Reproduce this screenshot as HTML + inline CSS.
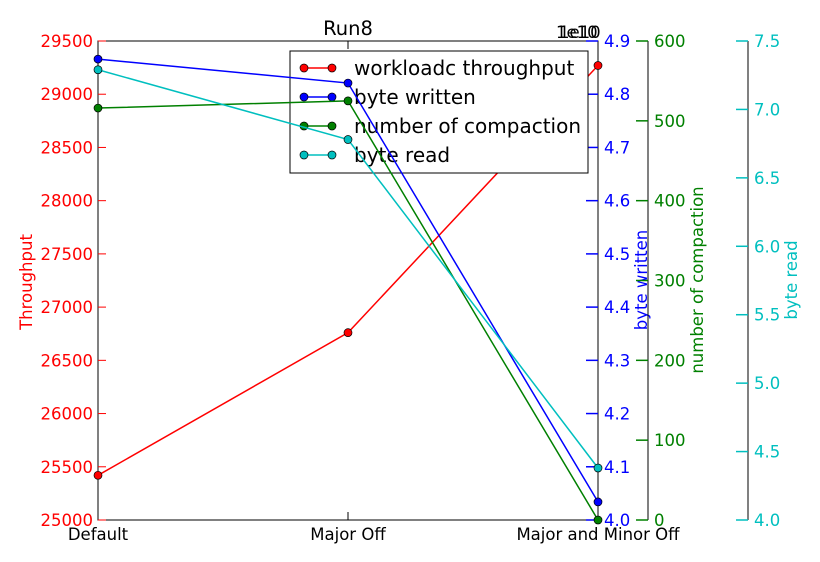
<!DOCTYPE html>
<html><head><meta charset="utf-8"><style>body{margin:0;background:#fff}svg{display:block;font-family:"DejaVu Sans","Liberation Sans",sans-serif}</style></head>
<body>
<svg id="c" width="820" height="562"></svg>
<script>
const categories=["Default","Major Off","Major and Minor Off"];
const throughput=[25420,26760,29270];
const byteWritten=[4.866,4.821,4.034];
const compaction=[516,525,0];
const byteRead=[7.29,6.78,4.38];
const thrTicks=[25000,25500,26000,26500,27000,27500,28000,28500,29000,29500];
const bwTicks=[4.0,4.1,4.2,4.3,4.4,4.5,4.6,4.7,4.8,4.9];
const cTicks=[0,100,200,300,400,500,600];
const brTicks=[4.0,4.5,5.0,5.5,6.0,6.5,7.0,7.5];
const svg=document.getElementById('c');const NS='http://www.w3.org/2000/svg';
const L=98,R=598,T=41,B=520;const FS=16.5;
function el(t,a,txt){const e=document.createElementNS(NS,t);for(const k in a)e.setAttribute(k,a[k]);if(txt!==undefined)e.textContent=txt;svg.appendChild(e);return e;}
const x=i=>L+i*(R-L)/(categories.length-1);
const sc=(lo,hi)=>v=>B-(v-lo)/(hi-lo)*(B-T);
const yT=sc(25000,29500),yW=sc(4.0,4.9),yC=sc(0,600),yR=sc(4.0,7.5);
let e=el('rect',{x:L,y:T,width:R-L,height:B-T,fill:'none',stroke:'#000'});

e=el('text',{x:348,y:35,'text-anchor':'middle','font-size':19.5},'Run8');

categories.forEach((c,i)=>{el('line',{x1:x(i),x2:x(i),y1:B,y2:B-8,stroke:'#000'});el('line',{x1:x(i),x2:x(i),y1:T,y2:T+8,stroke:'#000'});
e=el('text',{x:x(i),y:540,'text-anchor':'middle','font-size':FS},c);});
thrTicks.forEach(v=>{el('line',{x1:L,x2:L+8,y1:yT(v),y2:yT(v),stroke:'red'});
e=el('text',{x:L-5,y:yT(v)+6,'text-anchor':'end','font-size':FS,fill:'red'},v);});
e=el('text',{x:32,y:282,'text-anchor':'middle','font-size':FS,fill:'red',transform:'rotate(-90 32 282)'},'Throughput');

function raxis(ax,ticks,f,col,fmt,title,tx,name){el('line',{x1:ax,x2:ax,y1:T,y2:B,stroke:'#000'});
ticks.forEach(v=>{el('line',{x1:ax-12,x2:ax,y1:f(v),y2:f(v),stroke:col,'stroke-width':1.5});
e=el('text',{x:ax+6,y:f(v)+6,'font-size':FS,fill:col},fmt(v));});
e=el('text',{x:tx,y:280,'text-anchor':'middle','font-size':FS,fill:col,transform:`rotate(-90 ${tx} 280)`},title);
}
raxis(R,bwTicks,yW,'blue',v=>v.toFixed(1),'byte written',647,'byte-written');
raxis(648,cTicks,yC,'green',v=>v,'number of compaction',703,'compaction');
raxis(748,brTicks,yR,'#00bfbf',v=>v.toFixed(1),'byte read',797,'byte-read');
el('text',{x:556,y:38,'font-size':FS},'1e10');el('text',{x:559,y:38,'font-size':FS},'1e10');
const series=[[throughput,yT,'red','workloadc throughput'],[byteWritten,yW,'blue','byte written'],[compaction,yC,'green','number of compaction'],[byteRead,yR,'#00bfbf','byte read']];
function drawSeries([d,f,col,n]){e=el('polyline',{points:d.map((v,i)=>x(i)+','+f(v)).join(' '),fill:'none',stroke:col,'stroke-width':1.5});

d.forEach((v,i)=>{e=el('circle',{cx:x(i),cy:f(v),r:4,fill:col,stroke:'#000','stroke-width':0.7});});}
drawSeries(series[0]);
e=el('rect',{x:290,y:51,width:298,height:122,fill:'#fff',stroke:'#000'});
series.forEach(([d,f,col,n],k)=>{const yy=68+k*29;el('line',{x1:304,x2:332,y1:yy,y2:yy,stroke:col,'stroke-width':1.5});
el('circle',{cx:304,cy:yy,r:4,fill:col,stroke:'#000','stroke-width':0.7});el('circle',{cx:332,cy:yy,r:4,fill:col,stroke:'#000','stroke-width':0.7});
e=el('text',{x:354,y:yy+7,'font-size':20},n);});
series.slice(1).forEach(drawSeries);
</script>
</body></html>
